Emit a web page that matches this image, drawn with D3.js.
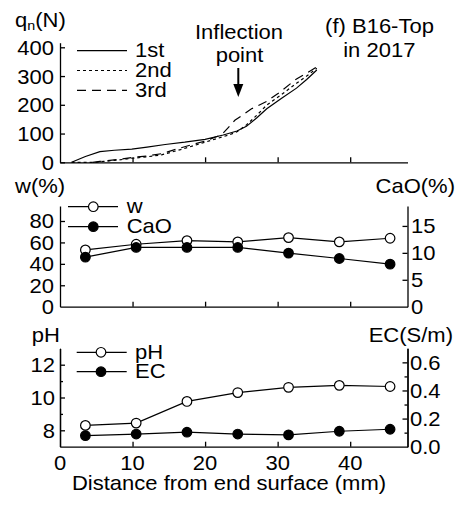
<!DOCTYPE html>
<html><head><meta charset="utf-8">
<script src="https://cdn.jsdelivr.net/npm/d3@7"></script>
<style>body{margin:0;background:#fff}svg{display:block}text{font-family:"Liberation Sans",Arial,sans-serif;fill:#000}</style>
</head><body>
<svg id="c" width="458" height="506"></svg>
<script>
// ---------- data ----------
const xTicks = [0, 10, 20, 30, 40];
const depth = [3.5, 10.5, 17.5, 24.5, 31.5, 38.5, 45.5];
const wVals = [53, 58.3, 61.7, 60.5, 64.5, 60.5, 63.9];
const caoVals = [9.2, 11.0, 11.0, 11.0, 9.95, 8.95, 7.9];
const phVals = [8.3, 8.44, 9.76, 10.3, 10.62, 10.74, 10.67];
const ecVals = [0.079, 0.09, 0.103, 0.09, 0.084, 0.11, 0.124];

const q1Dist = [1.6, 3.5, 5.5, 7.5, 9.9, 12, 14.5, 17.2, 20, 22.5, 24.4, 25.7, 27.1, 28.5, 30.5, 32.6, 34, 35.4];
const q1Vals = [0, 20, 37, 42, 46, 53, 62, 70, 80, 95, 109, 125, 154, 186, 222, 258, 288, 321];
const q2Dist = [1.6, 5, 6, 8, 10, 12, 14, 16.6, 20, 23.4, 24.4, 25.7, 27.1, 28.5, 30.5, 32.6, 34, 35.4];
const q2Vals = [0, 0, 3, 8, 14, 19, 26, 44, 70, 96, 106, 130, 163, 199, 235, 275, 300, 327];
const q3Dist = [4.5, 5.5, 8, 10, 12, 14, 16.6, 20, 22.3, 24.1, 26.4, 28.5, 30.3, 32.6, 34, 35.4];
const q3Vals = [0, 3, 10, 17, 22, 30, 50, 74, 96, 146, 186, 212, 244, 290, 310, 332];

const qTicks = [0, 100, 200, 300, 400];
const wTicks = [0, 20, 40, 60, 80];
const caoTicks = [0, 5, 10, 15];
const phTicks = [8, 10, 12];
const phMinor = [9, 11];
const ecTicks = [0, 0.2, 0.4, 0.6];
const ecMinor = [0.1, 0.3, 0.5];
const qSeries = ["1st", "2nd", "3rd"];
const dashes = [null, "3,3", "9,6"];

// ---------- drawing ----------
const svg = d3.select("#c");
const FS = 20, SX = 1.1;
function txt(x, y, s, anchor, size) {
  return svg.append("text")
    .attr("transform", `translate(${x},${y}) scale(${SX},1)`)
    .attr("text-anchor", anchor || "start")
    .attr("font-size", size || FS)
    .text(s);
}

const L = 60, R = 407.5;
const x = d3.scaleLinear().domain([0, 47.9]).range([L, R]);

const yQ = d3.scaleLinear().domain([0, 416]).range([162.3, 42.7]);
const yW = d3.scaleLinear().domain([0, 94]).range([306.7, 206]);
const yC = d3.scaleLinear().domain([0, 18.7]).range([306.7, 206]);
const yP = d3.scaleLinear().domain([7, 13]).range([446.7, 348.3]);
const yE = d3.scaleLinear().domain([0, 0.7]).range([446.7, 348.3]);

function styleAxis(g) {
  g.selectAll("path,line").attr("stroke", "#000").attr("stroke-width", 1.3);
  g.selectAll("text").remove();
}
function xAxis(yBase) {
  const g = svg.append("g").attr("transform", `translate(0,${yBase})`)
    .call(d3.axisBottom(x).tickValues([10, 20, 30, 40]).tickSizeInner(-5).tickSizeOuter(0));
  styleAxis(g);
}
function leftAxis(scale, ticks, size) {
  const g = svg.append("g").attr("transform", `translate(${L},0)`)
    .call(d3.axisLeft(scale).tickValues(ticks).tickSizeInner(-(size || 5)).tickSizeOuter(0));
  styleAxis(g);
}
function rightAxis(scale, ticks, size) {
  const g = svg.append("g").attr("transform", `translate(${R},0)`)
    .call(d3.axisRight(scale).tickValues(ticks).tickSizeInner(-(size || 5)).tickSizeOuter(0));
  styleAxis(g);
}

// ===== Panel 1 : q_n =====
xAxis(yQ(0));
leftAxis(yQ, qTicks);
qTicks.forEach(t => txt(54, yQ(t) + 7.5, t, "end"));
const qt = svg.append("text").attr("transform", `translate(15,27) scale(${SX},1)`).attr("font-size", FS);
qt.append("tspan").text("q");
qt.append("tspan").attr("font-size", 13).attr("dy", 3).text("n");
qt.append("tspan").attr("dy", -3).text("(N)");

const qLine = d3.line().x(d => x(d[0])).y(d => yQ(d[1]));
const qData = [d3.zip(q1Dist, q1Vals), d3.zip(q2Dist, q2Vals), d3.zip(q3Dist, q3Vals)];
qData.forEach((d, i) => {
  svg.append("path").datum(d).attr("d", qLine).attr("fill", "none")
    .attr("stroke", "#000").attr("stroke-width", 1.2)
    .attr("stroke-dasharray", dashes[i]);
});
// legend
qSeries.forEach((s, i) => {
  const ly = 50.7 + i * 19.8;
  svg.append("line").attr("x1", 77).attr("x2", 127).attr("y1", ly).attr("y2", ly)
    .attr("stroke", "#000").attr("stroke-width", 1.2).attr("stroke-dasharray", dashes[i]);
  txt(135, ly + 6.5, s, "start");
});
// annotations
txt(239, 39, "Inflection", "middle");
txt(239.5, 61.5, "point", "middle");
svg.append("line").attr("x1", 238.3).attr("x2", 238.3).attr("y1", 68).attr("y2", 86)
  .attr("stroke", "#000").attr("stroke-width", 2);
svg.append("path").attr("d", "M233.3,84 L243.3,84 L238.3,97 Z").attr("fill", "#000");
txt(379.5, 33.3, "(f) B16-Top", "middle");
txt(379.3, 56.7, "in 2017", "middle");

// ===== Panel 2 : w / CaO =====
xAxis(yW(0));
leftAxis(yW, wTicks.filter(t => t > 0));
rightAxis(yC, caoTicks.filter(t => t > 0));
wTicks.forEach(t => txt(54, yW(t) + 7.5, t, "end"));
caoTicks.forEach(t => txt(411, yC(t) + 7.5, t, "start"));
txt(15, 193.3, "w(%)", "start");
txt(455, 193.3, "CaO(%)", "end");

function series(xs, ys, yScale, fill) {
  const pts = d3.zip(xs, ys);
  svg.append("path").datum(pts)
    .attr("d", d3.line().x(d => x(d[0])).y(d => yScale(d[1])))
    .attr("fill", "none").attr("stroke", "#000").attr("stroke-width", 1.2);
  svg.selectAll(null).data(pts).enter().append("circle")
    .attr("cx", d => x(d[0])).attr("cy", d => yScale(d[1])).attr("r", 4.8)
    .attr("fill", fill).attr("stroke", "#000").attr("stroke-width", 1.2);
}
series(depth, wVals, yW, "#fff");
series(depth, caoVals, yC, "#000");
function legendItem(x1, x2, cx, ly, fill, label, tx, dy) {
  svg.append("line").attr("x1", x1).attr("x2", x2).attr("y1", ly).attr("y2", ly)
    .attr("stroke", "#000").attr("stroke-width", 1.2);
  svg.append("circle").attr("cx", cx).attr("cy", ly).attr("r", 4.8)
    .attr("fill", fill).attr("stroke", "#000").attr("stroke-width", 1.2);
  txt(tx, ly + dy, label, "start");
}
legendItem(68, 118, 93.3, 206.7, "#fff", "w", 126.7, 6.6);
legendItem(68, 118, 93.3, 226.7, "#000", "CaO", 126.7, 6.6);

// ===== Panel 3 : pH / EC =====
xAxis(yP(7));
leftAxis(yP, phTicks);
leftAxis(yP, phMinor, 3);
rightAxis(yE, ecTicks.filter(t => t > 0));
rightAxis(yE, ecMinor, 3);
phTicks.forEach(t => txt(55, yP(t) + 7.5, t, "end"));
ecTicks.forEach(t => txt(410, yE(t) + 7.5, d3.format(".1f")(t), "start"));
xTicks.forEach(t => txt(x(t), 470, t, "middle"));
txt(31.7, 341.7, "pH", "start");
txt(453, 341.7, "EC(S/m)", "end");
txt(229, 490, "Distance from end surface (mm)", "middle");

series(depth, phVals, yP, "#fff");
series(depth, ecVals, yE, "#000");
legendItem(76.7, 126.7, 101, 352.3, "#fff", "pH", 135, 6.2);
legendItem(76.7, 126.7, 101, 371.7, "#000", "EC", 135, 6.6);
</script>
</body></html>
